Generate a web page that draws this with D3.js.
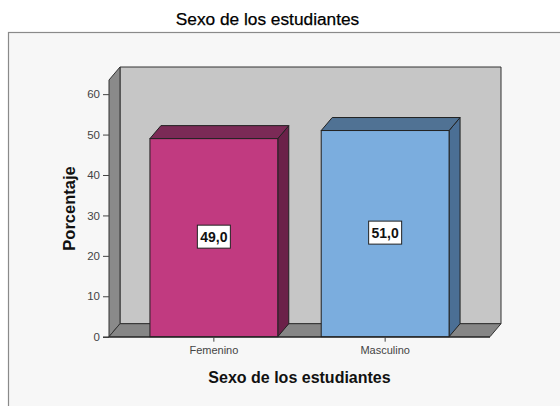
<!DOCTYPE html>
<html>
<head>
<meta charset="utf-8">
<script src="https://cdn.jsdelivr.net/npm/d3@7"></script>
<style>
  html, body { margin: 0; padding: 0; background: #ffffff; }
  svg { display: block; font-family: Arial, "Liberation Sans", sans-serif; }
</style>
</head>
<body>
<svg id="chart" width="560" height="406"></svg>
<script>
// ---- data ----
const categories = ["Femenino", "Masculino"];
const values = [49.0, 51.0];
const valueLabels = ["49,0", "51,0"];
const yTicks = [0, 10, 20, 30, 40, 50, 60];
const frontColors = ["#c13a80", "#7badde"];
const topColors = ["#7b2a56", "#507294"];
const sideColors = ["#6b2149", "#4b6f95"];
const chartTitle = "Sexo de los estudiantes";
const xTitle = "Sexo de los estudiantes";
const yTitle = "Porcentaje";

// ---- layout ----
const svg = d3.select("#chart");
const x0 = 109, x1 = 490;
const yBase = 336.7, yTopPx = 80;
const dx = 11, dy = -13;

const x = d3.scaleBand().domain(categories).range([x0, x1])
  .paddingInner(0.2536).paddingOuter(0.239);
const y = d3.scaleLinear().domain([0, 63.5]).range([yBase, yTopPx]);

// frame
svg.append("rect").attr("x", 8.5).attr("y", 32.5).attr("width", 600).attr("height", 420)
  .attr("fill", "#f7f7f7").attr("stroke", "#8a8a8a").attr("stroke-width", 1.2);

// title
svg.append("text").attr("x", 267.5).attr("y", 25).attr("text-anchor", "middle")
  .attr("font-size", 17.3).attr("fill", "#000").attr("stroke", "#000").attr("stroke-width", 0.25)
  .text(chartTitle);

const yMax = y.domain()[1];
const line = d3.line();

// back wall
svg.append("path")
  .attr("d", line([[x0 + dx, y(yMax) + dy], [x1 + dx, y(yMax) + dy], [x1 + dx, y(0) + dy], [x0 + dx, y(0) + dy]]) + "Z")
  .attr("fill", "#c6c6c6").attr("stroke", "#333").attr("stroke-width", 1);
// left side wall
svg.append("path")
  .attr("d", line([[x0, y(yMax)], [x0 + dx, y(yMax) + dy], [x0 + dx, y(0) + dy], [x0, y(0)]]) + "Z")
  .attr("fill", "#8a8a8a").attr("stroke", "#333").attr("stroke-width", 1);
// floor
svg.append("path")
  .attr("d", line([[x0, y(0)], [x0 + dx, y(0) + dy], [x1 + dx, y(0) + dy], [x1, y(0)]]) + "Z")
  .attr("fill", "#868686").attr("stroke", "#333").attr("stroke-width", 1);

// bars
const bars = svg.append("g").selectAll("g").data(categories).join("g");
bars.each(function (c, i) {
  const g = d3.select(this);
  const bx = x(c), bw = x.bandwidth(), ty = y(values[i]), by = y(0);
  // side
  g.append("path")
    .attr("d", line([[bx + bw, ty], [bx + bw + dx, ty + dy], [bx + bw + dx, by + dy], [bx + bw, by]]) + "Z")
    .attr("fill", sideColors[i]).attr("stroke", "#222").attr("stroke-width", 1);
  // top
  g.append("path")
    .attr("d", line([[bx, ty], [bx + dx, ty + dy], [bx + bw + dx, ty + dy], [bx + bw, ty]]) + "Z")
    .attr("fill", topColors[i]).attr("stroke", "#222").attr("stroke-width", 1);
  // front
  g.append("rect").attr("x", bx).attr("y", ty).attr("width", bw).attr("height", by - ty)
    .attr("fill", frontColors[i]).attr("stroke", "#222").attr("stroke-width", 1);
  // value label
  const cx = bx + bw / 2, cy = (ty + by) / 2 - 1;
  g.append("rect").attr("x", cx - 16.5).attr("y", cy - 11.5).attr("width", 33).attr("height", 23)
    .attr("fill", "#ffffff").attr("stroke", "#222").attr("stroke-width", 1);
  g.append("text").attr("x", cx).attr("y", cy + 5).attr("text-anchor", "middle")
    .attr("font-size", 14).attr("font-weight", "bold").attr("fill", "#111").text(valueLabels[i]);
});

// y axis
const yAxis = svg.append("g").attr("transform", `translate(${x0},0)`)
  .call(d3.axisLeft(y).tickValues(yTicks).tickSize(6).tickSizeOuter(0).tickPadding(3));
yAxis.select(".domain").remove();
yAxis.selectAll(".tick line").attr("stroke", "#444");
yAxis.selectAll(".tick text").attr("font-size", 11.5).attr("fill", "#444")
  .attr("font-family", "Arial, 'Liberation Sans', sans-serif");

// x axis
const xAxis = svg.append("g").attr("transform", `translate(0,${yBase})`)
  .call(d3.axisBottom(x).tickSize(5).tickSizeOuter(0).tickPadding(5));
xAxis.select(".domain").attr("d", `M${x0 - 6},0.5H${x1}`).attr("stroke", "#222");
xAxis.selectAll(".tick line").attr("stroke", "#444");
xAxis.selectAll(".tick text").attr("font-size", 11).attr("fill", "#444")
  .attr("font-family", "Arial, 'Liberation Sans', sans-serif");

// axis titles
svg.append("text").attr("x", (x0 + x1) / 2).attr("y", 383).attr("text-anchor", "middle")
  .attr("font-size", 16).attr("font-weight", "bold").attr("fill", "#111").text(xTitle);
svg.append("text").attr("transform", "translate(75,208.5) rotate(-90)").attr("text-anchor", "middle")
  .attr("font-size", 16.5).attr("font-weight", "bold").attr("fill", "#111").text(yTitle);
</script>
</body>
</html>
